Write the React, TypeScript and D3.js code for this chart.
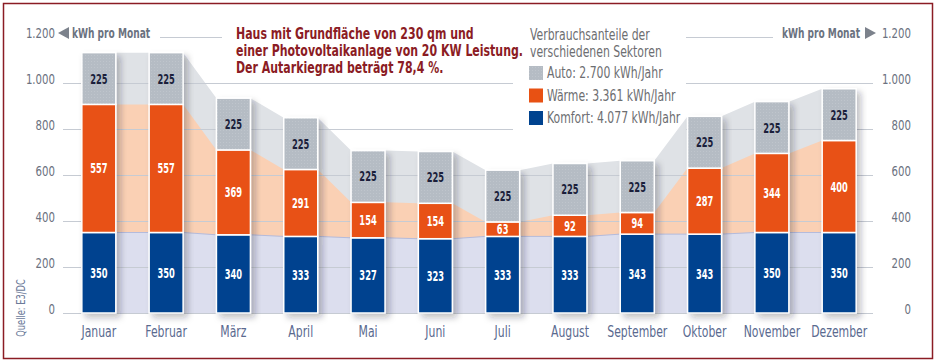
import React from "react";
import * as d3 from "d3";

const months = ["Januar", "Februar", "März", "April", "Mai", "Juni", "Juli", "August", "September", "Oktober", "November", "Dezember"];
const komfort = [350, 350, 340, 333, 327, 323, 333, 333, 343, 343, 350, 350];
const waerme = [557, 557, 369, 291, 154, 154, 63, 92, 94, 287, 344, 400];
const auto = [225, 225, 225, 225, 225, 225, 225, 225, 225, 225, 225, 225];
const yTicks = [0, 200, 400, 600, 800, 1000, 1200];
const yTickLabels = ["0", "200", "400", "600", "800", "1.000", "1.200"];
const legendTitle = ["Verbrauchsanteile der", "verschiedenen Sektoren"];
const legendLabels = ["Auto: 2.700 kWh/Jahr", "Wärme: 3.361 kWh/Jahr", "Komfort: 4.077 kWh/Jahr"];
const titleLines = ["Haus mit Grundfläche von 230 qm und", "einer Photovoltaikanlage von 20 KW Leistung.", "Der Autarkiegrad beträgt 78,4 %."];
const unitLabel = "kWh pro Monat";
const sourceLabel = "Quelle: E3/DC";

const FONT = "'DejaVu Sans Condensed', 'DejaVu Sans', sans-serif";
const C_BLUE = "#00438f";
const C_ORANGE = "#e85113";
const C_GREY = "#b5bcc4";
const A_GREY = "#dfe2e6";
const A_ORANGE = "#fad0b4";
const A_BLUE = "#dcdeee";
const GRID = "#c6cbd3";
const AXIS_TXT = "#6b7280";
const MONTH_TXT = "#5a6a8f";

type TProps = {
  x: number;
  y: number;
  sx?: number;
  size: number;
  fill: string;
  anchor?: "start" | "middle" | "end";
  bold?: boolean;
  rotate?: number;
  children: React.ReactNode;
};

function T({ x, y, sx = 0.78, size, fill, anchor = "start", bold = false, rotate = 0, children }: TProps) {
  return (
    <text
      transform={`translate(${x},${y}) rotate(${rotate}) scale(${sx},1)`}
      textAnchor={anchor}
      fontSize={size}
      fill={fill}
      fontWeight={bold ? "bold" : "normal"}
    >
      {children}
    </text>
  );
}

export default function App() {
  const x = d3.scaleBand<string>().domain(months).range([65, 873]).paddingInner(0.495).paddingOuter(0.25);
  const y = d3.scaleLinear().domain([0, 1000]).range([313, 83]);
  const bw = x.bandwidth();

  const totals = months.map((_, i) => komfort[i] + waerme[i] + auto[i]);
  const mid = months.map((_, i) => komfort[i] + waerme[i]);

  const edgePts = (vals: number[]) => {
    const pts: [number, number][] = [];
    months.forEach((m, i) => {
      pts.push([x(m)!, vals[i]]);
      pts.push([x(m)! + bw, vals[i]]);
    });
    return pts;
  };
  const area = d3.area<[number, number]>().x((d) => d[0]).y0(y(0)).y1((d) => y(d[1]));
  const line = d3.line<[number, number]>().x((d) => d[0]).y((d) => y(d[1]));

  const gridSegs = (t: number): [number, number][] => {
    const yy = y(t);
    if (t === 1200) return [[160, 222], [686, 773]];
    if (yy < 135) return [[63, 513], [686, 873]];
    return [[63, 873]];
  };

  const legendColors = ["url(#dots)", C_ORANGE, C_BLUE];
  const yTop = y(1200);

  return (
    <div style={{ position: "absolute", left: 0, top: 0 }}>
      <svg width={938} height={362} style={{ display: "block", fontFamily: FONT }}>
        <defs>
          <pattern id="dots" width={3} height={3} patternUnits="userSpaceOnUse">
            <rect width={3} height={3} fill={C_GREY} />
            <rect x={1} y={1} width={1} height={1} fill="#bfc5cc" />
          </pattern>
          <filter id="shadow" x="-20%" y="-10%" width="150%" height="130%">
            <feDropShadow dx={4} dy={4} stdDeviation={3} floodColor="#1a2030" floodOpacity={0.28} />
          </filter>
        </defs>
        <rect x={0} y={0} width={938} height={362} fill="#fff" />
        <rect x={3.5} y={3.5} width={929} height={355} fill="none" stroke="#8b1c24" strokeWidth={1.5} />

        {/* background areas */}
        <path d={area(edgePts(totals))!} fill={A_GREY} />
        <path d={area(edgePts(mid))!} fill={A_ORANGE} />
        <path d={area(edgePts(komfort))!} fill={A_BLUE} />
        <path d={line(edgePts(komfort))!} fill="none" stroke="#b4bbdc" strokeWidth={1} />

        {/* grid */}
        {yTicks.map((t) =>
          gridSegs(t).map((s, j) => (
            <line key={`${t}-${j}`} x1={s[0]} x2={s[1]} y1={y(t) + 0.5} y2={y(t) + 0.5} stroke={GRID} strokeWidth={1} />
          ))
        )}
        {yTicks.map((t, i) => (
          <g key={`yl${t}`}>
            <T x={55} y={y(t) + 1} size={14.5} fill={AXIS_TXT} anchor="end">{yTickLabels[i]}</T>
            <T x={911} y={y(t) + 1} size={14.5} fill={AXIS_TXT} anchor="end">{yTickLabels[i]}</T>
          </g>
        ))}

        {/* unit headers */}
        <path d={`M58,${yTop - 4} L69,${yTop - 10} L69,${yTop + 2} Z`} fill="#7c828c" />
        <T x={72} y={yTop + 1} size={14} bold fill={AXIS_TXT} sx={0.72}>{unitLabel}</T>
        <path d={`M876,${yTop - 4} L865,${yTop - 10} L865,${yTop + 2} Z`} fill="#7c828c" />
        <T x={860} y={yTop + 1} size={14} bold fill={AXIS_TXT} sx={0.72} anchor="end">{unitLabel}</T>

        {/* bars */}
        {months.map((m, i) => {
          const x0 = x(m)!;
          const segs = [
            { v0: 0, v1: komfort[i], fill: C_BLUE, label: komfort[i], tc: "#fff" },
            { v0: komfort[i], v1: mid[i], fill: C_ORANGE, label: waerme[i], tc: "#fff" },
            { v0: mid[i], v1: totals[i], fill: "url(#dots)", label: auto[i], tc: "#1b1f3b" },
          ];
          return (
            <g key={m}>
              <g filter="url(#shadow)">
                {segs.map((s, j) => (
                  <rect key={j} x={x0} y={y(s.v1)} width={bw} height={y(s.v0) - y(s.v1)} fill={s.fill} stroke="#fff" strokeWidth={1.5} />
                ))}
              </g>
              {segs.map((s, j) => (
                <T key={`t${j}`} x={x0 + bw / 2} y={(y(s.v0) + y(s.v1)) / 2 + 5} anchor="middle" size={14} bold fill={s.tc} sx={0.66}>
                  {s.label}
                </T>
              ))}
              <T x={x0 + bw / 2} y={337} anchor="middle" size={15.5} fill={MONTH_TXT}>{m}</T>
            </g>
          );
        })}

        {/* title */}
        {titleLines.map((t, i) => (
          <T key={t} x={236} y={39 + i * 17} size={16.5} fill="#8b1c24" bold sx={0.74}>{t}</T>
        ))}

        {/* legend */}
        {legendTitle.map((t, i) => (
          <T key={t} x={530} y={40 + i * 17} size={15.5} fill="#6d6e71">{t}</T>
        ))}
        {legendLabels.map((t, i) => (
          <g key={t}>
            <rect x={529} y={66 + i * 22.5} width={14} height={14} fill={legendColors[i]} />
            <T x={547} y={78 + i * 22.5} size={15.5} fill="#6d6e71">{t}</T>
          </g>
        ))}

        <T x={25} y={308} rotate={-90} anchor="middle" size={11.5} fill="#6b7a99" sx={0.8}>{sourceLabel}</T>
      </svg>
    </div>
  );
}
